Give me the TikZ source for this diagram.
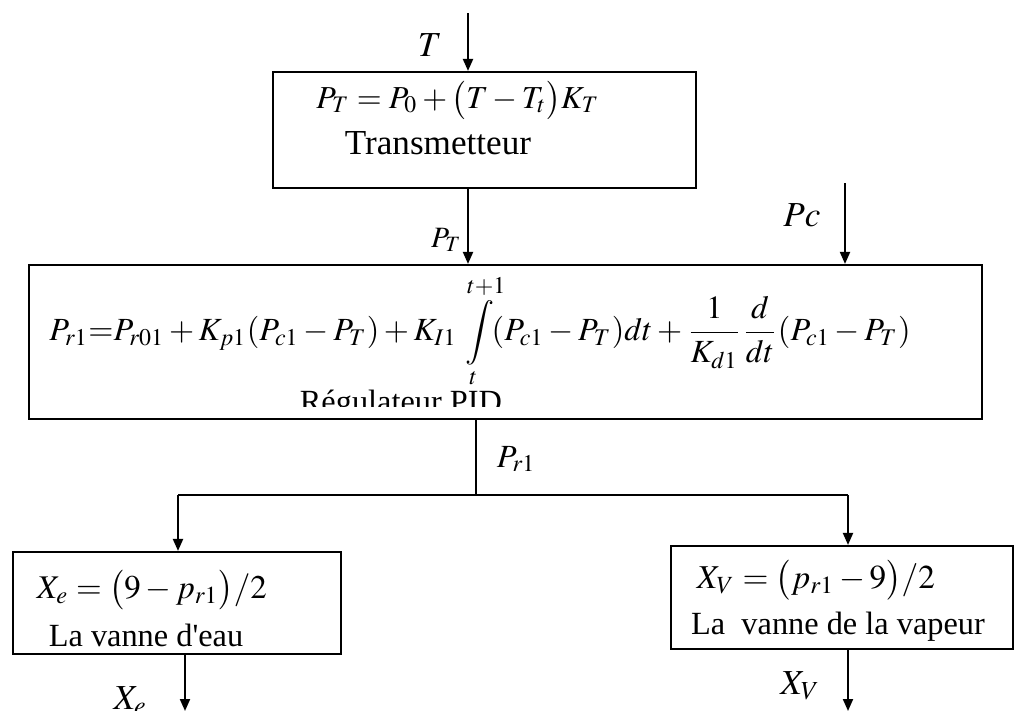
\documentclass[tikz,border=0pt]{standalone}
\usepackage{amsmath}
\usepackage{mathptmx}
\usepackage{graphicx}
\usepackage{fontspec}
\setmainfont{Liberation Serif}
\usetikzlibrary{arrows.meta}
\begin{document}
\begin{tikzpicture}[x=0.025cm,y=-0.025cm,
  box/.style={draw,line width=1.5pt,rectangle,inner sep=0pt},
  arr/.style={line width=1.4pt,-{Triangle[length=0.3cm,width=0.25cm]}},
  ln/.style={line width=1.4pt},
  lbl/.style={inner sep=0pt},
  big/.style={font=\fontsize{25}{28}\selectfont},
  mid/.style={font=\fontsize{23}{26}\selectfont},
  small/.style={font=\fontsize{21}{24}\selectfont}]
\useasboundingbox (0,0) rectangle (1014,711);
% boxes
\node[box,minimum width=10.575cm,minimum height=2.9cm] (trans) at (484.5,130) {};
\node[box,minimum width=23.825cm,minimum height=3.85cm] (pid) at (505.5,342) {};
\node[box,minimum width=8.2cm,minimum height=2.55cm] (vE) at (177,603) {};
\node[box,minimum width=8.55cm,minimum height=2.575cm] (vV) at (842,597.5) {};
% texts in boxes
\node[lbl] (eqT) at (458,100) {\resizebox{7.075cm}{!}{$P_T = P_0 + \bigl(T - T_t\bigr)K_T$}};
\node[lbl,big] (txtT) at (438,143) {Transmetteur};
\node[lbl] (eqPID) at (480,331) {\resizebox{21.525cm}{!}{$\displaystyle P_{r1}{=}P_{r01} + K_{p1}(P_{c1} - P_T) + K_{I1}\int\limits_{t}^{t+1}\!\!(P_{c1} - P_T)dt + \frac{1}{K_{d1}}\frac{d}{dt}(P_{c1} - P_T)$}};
\begin{scope}
\clip (29,265) rectangle (982,406);
\node[lbl,mid,anchor=base] (txtPID) at (405,412) {Régulateur PID.};
\end{scope}
\node[lbl] (eqE) at (152,590) {\resizebox{5.75cm}{!}{$X_e = \bigl(9 - p_{r1}\bigr)/2$}};
\node[lbl,mid] (txtE) at (146,635) {La vanne d\textquotesingle eau};
\node[lbl] (eqV) at (816,580) {\resizebox{5.95cm}{!}{$X_V = \bigl(p_{r1} - 9\bigr)/2$}};
\node[lbl,mid] (txtV) at (838,627) {La~ vanne de la vapeur};
% signal labels
\node[lbl,big] (lT) at (430,45) {$T$};
\node[lbl,small] (lPT) at (446,240) {$P_T$};
\node[lbl,big] (lPc) at (802,215) {$Pc$};
\node[lbl,mid] (lPr) at (516,459) {$P_{r1}$};
\node[lbl,big] (lXe) at (130,701) {$X_e$};
\node[lbl,big] (lXV) at (800,686) {$X_V$};
% connectors
\coordinate (Tin) at (468,13);
\draw[arr] (Tin) -- (Tin |- trans.north);
\draw[arr] (trans.south -| Tin) -- (pid.north -| Tin);
\coordinate (Pcin) at (845,183);
\draw[arr] (Pcin) -- (Pcin |- pid.north);
\coordinate (jM) at (476,495);
\coordinate (jL) at (178,495);
\coordinate (jR) at (848,495);
\draw[ln] (pid.south -| jM) -- (jM);
\draw[ln] (jL) -- (jR);
\draw[arr] (jL) -- (jL |- vE.north);
\draw[arr] (jR) -- (jR |- vV.north);
\coordinate (oE) at (185,711);
\coordinate (oV) at (848,711);
\draw[arr] (vE.south -| oE) -- (oE);
\draw[arr] (vV.south -| oV) -- (oV);
\end{tikzpicture}
\end{document}
